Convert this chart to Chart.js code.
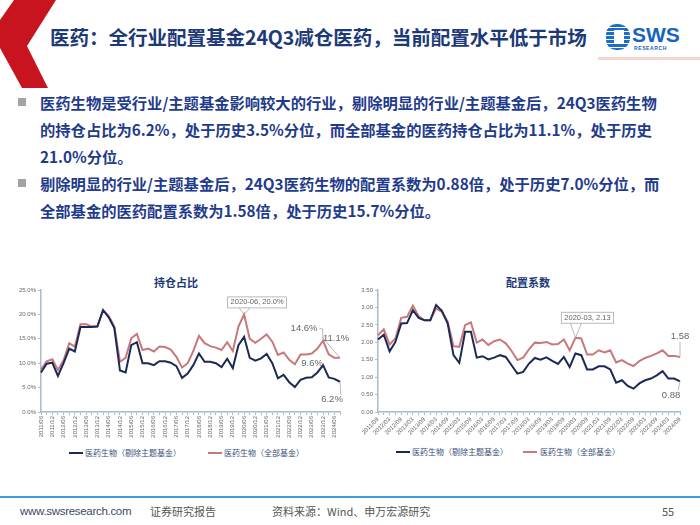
<!DOCTYPE html>
<html>
<head>
<meta charset="utf-8">
<script src="https://cdn.jsdelivr.net/npm/chart.js@4.4.1/dist/chart.umd.min.js"></script>
<style>
  html, body { margin: 0; padding: 0; background: #fff; }
  body { width: 700px; height: 525px; position: relative; overflow: hidden; font-family: "Noto Sans CJK SC", "Noto Sans", sans-serif; }
  .abs { position: absolute; white-space: nowrap; }
  #title { left: 50px; top: 24px; font-size: 19.6px; font-weight: 700; color: #1d3a78; letter-spacing: -0.1px; line-height: 26px; }
  .bl { left: 40px; font-size: 15.3px; font-weight: 700; color: #1f3b8c; line-height: 20px; }
  .sq { width: 8px; height: 8px; background: #a3a3a3; left: 18px; }
  .ct { font-size: 11px; font-weight: 700; color: #1d3a78; transform: translateX(-50%); }
  .lg { font-size: 8px; color: #3a4f7a; line-height: 10px; }
  .lgline { height: 2px; width: 14px; }
  .ft { top: 503px; font-size: 11px; color: #555; line-height: 16px; }
  canvas { position: absolute; }
</style>
</head>
<body>
<svg class="abs" style="left:0;top:0" width="70" height="100">
  <polygon points="14,0 56,0 27,46 48,88 22,88 0,48 0,20" fill="#c8141e"/>
</svg>
<div class="abs" style="left:598px;top:57px;width:102px;height:3px;background:#f5d6d0"></div>
<div id="title" class="abs">医药：全行业配置基金24Q3减仓医药，当前配置水平低于市场</div>
<div class="abs" style="left:606px;top:24px;width:24px;height:26px;border-radius:10px 12px 12px 10px;background:repeating-linear-gradient(180deg,#1a6ec8 0 3px,#ffffff 3px 4px);"></div>
<div class="abs" style="left:614px;top:30px;width:10px;height:14px;background:#fff"></div>
<div class="abs" style="left:632px;top:22px;font-size:21px;font-weight:900;color:#1565c0;font-family:'Liberation Sans',sans-serif;line-height:26px">SWS</div>
<div class="abs" style="left:634px;top:45px;font-size:5px;font-weight:700;color:#1565c0;font-family:'Liberation Sans',sans-serif;letter-spacing:0.6px">RESEARCH</div>

<div class="abs sq" style="top:98px"></div>
<div class="abs bl" style="top:92px">医药生物是受行业/主题基金影响较大的行业，剔除明显的行业/主题基金后，24Q3医药生物</div>
<div class="abs bl" style="top:119px">的持仓占比为6.2%，处于历史3.5%分位，而全部基金的医药持仓占比为11.1%，处于历史</div>
<div class="abs bl" style="top:146px">21.0%分位。</div>
<div class="abs sq" style="top:179px"></div>
<div class="abs bl" style="top:173px">剔除明显的行业/主题基金后，24Q3医药生物的配置系数为0.88倍，处于历史7.0%分位，而</div>
<div class="abs bl" style="top:200px">全部基金的医药配置系数为1.58倍，处于历史15.7%分位。</div>

<div class="abs ct" style="left:176px;top:274px">持仓占比</div>
<div class="abs ct" style="left:528px;top:274px">配置系数</div>

<canvas id="c1" width="350" height="160" style="left:0;top:284px"></canvas>
<canvas id="c2" width="350" height="160" style="left:350px;top:284px"></canvas>

<div class="abs lgline" style="left:69px;top:452px;background:#1b2a55"></div>
<div class="abs lg" style="left:85px;top:448px">医药生物（剔除主题基金）</div>
<div class="abs lgline" style="left:208px;top:452px;background:#c9787a"></div>
<div class="abs lg" style="left:224px;top:448px">医药生物（全部基金）</div>
<div class="abs lgline" style="left:396px;top:451px;background:#1b2a55"></div>
<div class="abs lg" style="left:412px;top:447px">医药生物（剔除主题基金）</div>
<div class="abs lgline" style="left:523px;top:451px;background:#c9787a"></div>
<div class="abs lg" style="left:540px;top:447px">医药生物（全部基金）</div>

<div class="abs" style="left:0;top:496px;width:700px;height:2px;background:#3d9be0"></div>
<div class="abs ft" style="left:20px;color:#3b4a66;font-family:'Liberation Sans',sans-serif;font-size:11.5px;letter-spacing:-0.3px">www.swsresearch.com</div>
<div class="abs ft" style="left:150px">证券研究报告</div>
<div class="abs ft" style="left:272px">资料来源：Wind、申万宏源研究</div>
<div class="abs ft" style="left:662px">55</div>

<script>
// 持仓占比: quarterly, 2011/06 - 2024/09
const holdLabels = [
  "2011/06","2011/09","2011/12","2012/03","2012/06","2012/09","2012/12","2013/03","2013/06","2013/09","2013/12",
  "2014/03","2014/06","2014/09","2014/12","2015/03","2015/06","2015/09","2015/12","2016/03","2016/06","2016/09","2016/12",
  "2017/03","2017/06","2017/09","2017/12","2018/03","2018/06","2018/09","2018/12","2019/03","2019/06","2019/09","2019/12",
  "2020/03","2020/06","2020/09","2020/12","2021/03","2021/06","2021/09","2021/12","2022/03","2022/06","2022/09","2022/12",
  "2023/03","2023/06","2023/09","2023/12","2024/03","2024/06","2024/09"
];
const holdExTheme = [
  8.1, 9.9, 10.1, 7.4, 10.0, 13.0, 12.4, 17.4, 17.4, 17.4, 17.5, 20.9, 19.4, 17.2, 8.5, 8.1, 13.7, 14.3,
  10.0, 10.0, 9.6, 10.4, 10.4, 10.1, 9.4, 7.0, 7.9, 9.6, 12.0, 10.3, 10.3, 10.0, 9.2, 10.9, 9.0, 13.7,
  15.4, 11.1, 10.5, 11.0, 11.9, 10.0, 6.9, 7.6, 6.1, 5.1, 6.6, 7.0, 7.1, 8.1, 9.6, 7.1, 6.8, 6.2
];
const holdAll = [
  8.7, 10.4, 10.8, 8.6, 10.6, 14.1, 13.4, 18.0, 18.0, 17.5, 17.6, 20.8, 19.7, 17.5, 10.3, 11.1, 15.1, 16.0,
  12.7, 13.0, 12.4, 13.4, 13.3, 12.8, 11.3, 9.1, 10.0, 12.5, 15.6, 14.1, 13.5, 13.2, 12.7, 14.3, 12.5, 17.5,
  20.0, 15.0, 14.2, 15.0, 15.9, 14.4, 11.7, 12.2, 10.7, 9.8, 11.8, 11.8, 12.0, 13.0, 14.6, 11.8, 11.1, 11.1
];
const holdTicks = [0, 5, 10, 15, 20, 25];

// 配置系数: quarterly, 2011/09 - 2024/09
const coefLabels = holdLabels.slice(1);
const coefExTheme = [
  2.08, 2.22, 1.74, 2.01, 2.54, 2.55, 2.92, 2.70, 2.63, 2.63, 3.07, 2.90, 2.54, 1.63, 1.41, 2.30, 2.30, 1.56,
  1.60, 1.51, 1.56, 1.63, 1.58, 1.34, 1.10, 1.15, 1.39, 1.55, 1.50, 1.57, 1.47, 1.38, 1.58, 1.29, 1.68, 1.63,
  1.22, 1.22, 1.31, 1.31, 1.22, 0.84, 0.91, 0.75, 0.67, 0.82, 0.91, 0.96, 1.05, 1.17, 0.96, 0.96, 0.88
];
const coefAll = [
  2.20, 2.37, 1.94, 2.11, 2.70, 2.73, 3.05, 2.75, 2.63, 2.63, 2.97, 2.87, 2.59, 1.89, 1.87, 2.49, 2.57, 1.99,
  2.08, 1.92, 2.03, 2.08, 1.97, 1.75, 1.49, 1.56, 1.80, 1.99, 1.98, 2.01, 1.94, 1.95, 2.08, 1.77, 2.13, 2.11,
  1.65, 1.65, 1.77, 1.71, 1.77, 1.42, 1.49, 1.39, 1.32, 1.46, 1.55, 1.61, 1.68, 1.77, 1.61, 1.61, 1.58
];
const coefTicks = [0, 0.5, 1, 1.5, 2, 2.5, 3, 3.5];

const NAVY = "#1b2a55";
const ROSE = "#c9787a";
const AXIS = "#a9bccd";
const TICK_TXT = "#666";

// callouts: [datasetIndex, pointIndex, text, dx, dy, boxed, leader]
const holdNotes = [
  [1, 36, "2020-06, 20.0%", 13, -12, true, "v"],
  [1, 50, "14.6%", -19, -12, false, "right"],
  [1, 53, "11.1%", -4, -19, false, "left"],
  [0, 50, "9.6%", -11, -2, false, null],
  [0, 53, "6.2%", -8, 18, false, "top"],
];
const coefNotes = [
  [1, 34, "2020-03, 2.13", 12, -20, true, "v"],
  [1, 52, "1.58", 0, -21, false, "bottom"],
  [0, 52, "0.88", -9, 14, false, "top"],
];

const calloutPlugin = {
  id: "callouts",
  afterDatasetsDraw(chart, args, opts) {
    const ctx = chart.ctx;
    ctx.save();
    for (const [ds, idx, text, dx, dy, boxed, leader] of opts.notes) {
      const pt = chart.getDatasetMeta(ds).data[idx];
      const tx = pt.x + dx, ty = pt.y + dy;
      ctx.font = boxed ? "7.5px 'Liberation Sans', sans-serif" : "9.5px 'Liberation Sans', sans-serif";
      const w = ctx.measureText(text).width;
      const h = boxed ? 11 : 10;
      ctx.strokeStyle = "#a8a8a8";
      ctx.lineWidth = 0.8;
      if (boxed) {
        ctx.fillStyle = "#fff";
        ctx.fillRect(tx - w / 2 - 3, ty - h / 2, w + 6, h);
        ctx.strokeRect(tx - w / 2 - 3, ty - h / 2, w + 6, h);
      }
      ctx.beginPath();
      if (leader === "v") {
        ctx.moveTo(pt.x - 5, ty + h / 2); ctx.lineTo(pt.x, pt.y); ctx.lineTo(pt.x + 6, ty + h / 2);
      } else if (leader === "right") {
        ctx.moveTo(tx + w / 2 + 2, ty); ctx.lineTo(tx + w / 2 + 5, ty); ctx.lineTo(pt.x, pt.y);
      } else if (leader === "left") {
        ctx.moveTo(tx - w / 2 - 1, ty - 2); ctx.lineTo(pt.x, pt.y);
      } else if (leader === "top") {
        ctx.moveTo(tx + w / 2 - 2, ty - h / 2); ctx.lineTo(pt.x, pt.y);
      } else if (leader === "bottom") {
        ctx.moveTo(tx, ty + h / 2 + 1); ctx.lineTo(pt.x, pt.y);
      }
      ctx.stroke();
      ctx.fillStyle = "#666";
      ctx.textAlign = "center";
      ctx.textBaseline = "middle";
      ctx.fillText(text, tx, ty);
    }
    ctx.restore();
  },
};

function makeChart(id, labels, exTheme, all, ticks, yWidth, pad, rot, fmt, notes) {
  return new Chart(document.getElementById(id), {
    type: "line",
    data: {
      labels,
      datasets: [
        { label: "医药生物（剔除主题基金）", data: exTheme, borderColor: NAVY, borderWidth: 2, pointRadius: 0, tension: 0 },
        { label: "医药生物（全部基金）", data: all, borderColor: ROSE, borderWidth: 2, pointRadius: 0, tension: 0 },
      ],
    },
    plugins: [calloutPlugin],
    options: {
      responsive: false,
      animation: false,
      layout: { padding: pad },
      plugins: { legend: { display: false }, tooltip: { enabled: false }, callouts: { notes } },
      scales: {
        x: {
          offset: false,
          grid: { drawOnChartArea: false, drawTicks: true, tickLength: 3, color: AXIS },
          border: { color: AXIS, width: 1.5 },
          ticks: {
            autoSkip: false, minRotation: rot, maxRotation: rot, padding: 1,
            color: TICK_TXT, font: { size: 6, family: "'Liberation Sans', sans-serif" },
            callback: (v, i) => (i % 2 === 0 ? labels[i] : ""),
          },
          afterFit: (s) => { s.height = 32; },
        },
        y: {
          min: ticks[0], max: ticks[ticks.length - 1],
          afterBuildTicks: (s) => { s.ticks = ticks.map((v) => ({ value: v })); },
          grid: { drawOnChartArea: false, drawTicks: true, tickLength: 3, color: AXIS },
          border: { color: AXIS, width: 1.5 },
          ticks: { color: TICK_TXT, padding: 2, font: { size: 6, family: "'Liberation Sans', sans-serif" }, callback: fmt },
          afterFit: (s) => { s.width = yWidth; },
        },
      },
    },
  });
}

makeChart("c1", holdLabels, holdExTheme, holdAll, holdTicks, 41, { top: 6, right: 10, left: 0, bottom: 0 }, 90,
  (v) => v.toFixed(1) + "%", holdNotes);
makeChart("c2", coefLabels, coefExTheme, coefAll, coefTicks, 28, { top: 6, right: 20, left: 0, bottom: 0 }, 45,
  (v) => v.toFixed(2), coefNotes);
</script>
</body>
</html>
